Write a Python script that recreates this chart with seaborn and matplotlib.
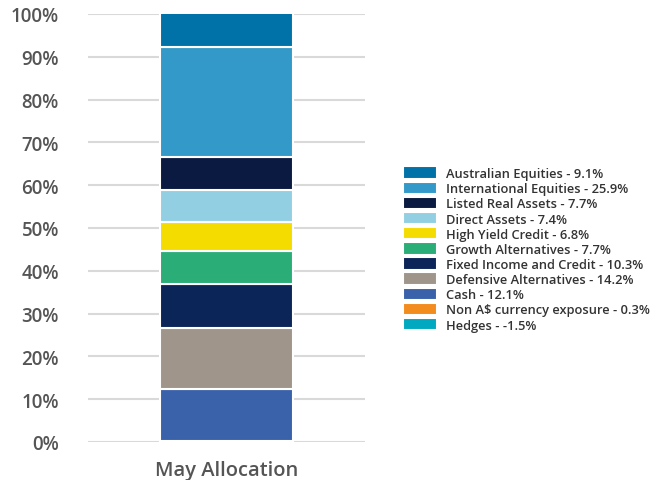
import matplotlib
matplotlib.use("Agg")
from matplotlib import pyplot as plt
import seaborn as sns

# stack order bottom -> top (legend shows it top -> bottom)
categories = ["Hedges", "Non A$ currency exposure", "Cash", "Defensive Alternatives",
              "Fixed Income and Credit", "Growth Alternatives", "High Yield Credit",
              "Direct Assets", "Listed Real Assets", "International Equities",
              "Australian Equities"]
values = [-1.5, 0.3, 12.1, 14.2, 10.3, 7.7, 6.8, 7.4, 7.7, 25.9, 9.1]
colors = ["#00a9c0", "#f28c1e", "#3a62aa", "#a0958a", "#0b2558", "#2bad78",
          "#f5dc00", "#92cfe3", "#0a1a40", "#3399c8", "#0072a8"]
month = "May Allocation"
yticks = [0, 10, 20, 30, 40, 50, 60, 70, 80, 90, 100]

sns.set_style("white")
plt.rcParams['font.family'] = ['Open Sans', 'DejaVu Sans']

fig = plt.figure(figsize=(6.55, 4.81), dpi=100)
ax = fig.add_axes([88 / 655, 38 / 481, 277 / 655, 428 / 481])

pos_base = 0.0
neg_base = 0.0
for cat, val, col in zip(categories, values, colors):
    if val >= 0:
        base = pos_base
        pos_base += val
    else:
        base = neg_base
        neg_base += val
    sns.barplot(x=[month], y=[val], bottom=base, color=col, saturation=1, width=0.48,
                edgecolor="white", linewidth=1.5, label=f"{cat} - {val}%", ax=ax)

ax.set_ylim(0, 100)
ax.set_xlim(-0.5, 0.5)
ax.set_yticks(yticks)
ax.set_yticklabels([f"{t}%" for t in yticks], fontsize=13.5, color="#555555", fontweight="semibold")
ax.tick_params(axis="y", length=0, pad=21)
ax.tick_params(axis="x", length=0, pad=13)
for t in ax.get_xticklabels():
    t.set_fontsize(14.5)
    t.set_color("#555555")
    t.set_fontweight("semibold")
ax.grid(axis="y", color="#d9d9d9", linewidth=1.5)
ax.set_axisbelow(True)
for s in ax.spines.values():
    s.set_visible(False)
ax.set_xlabel("")
ax.set_ylabel("")

handles, labels = ax.get_legend_handles_labels()
leg = ax.legend(handles[::-1], labels[::-1], loc="center left", bbox_to_anchor=(403 / 655, 231 / 481),
                bbox_transform=fig.transFigure, frameon=False, fontsize=9.3,
                labelspacing=0.12, handlelength=2.6, handleheight=1.1, handletextpad=0.75,
                borderaxespad=0, borderpad=0)
for t in leg.get_texts():
    t.set_color("#333333")
    t.set_fontweight("semibold")

fig.savefig("out.png", dpi=100)
